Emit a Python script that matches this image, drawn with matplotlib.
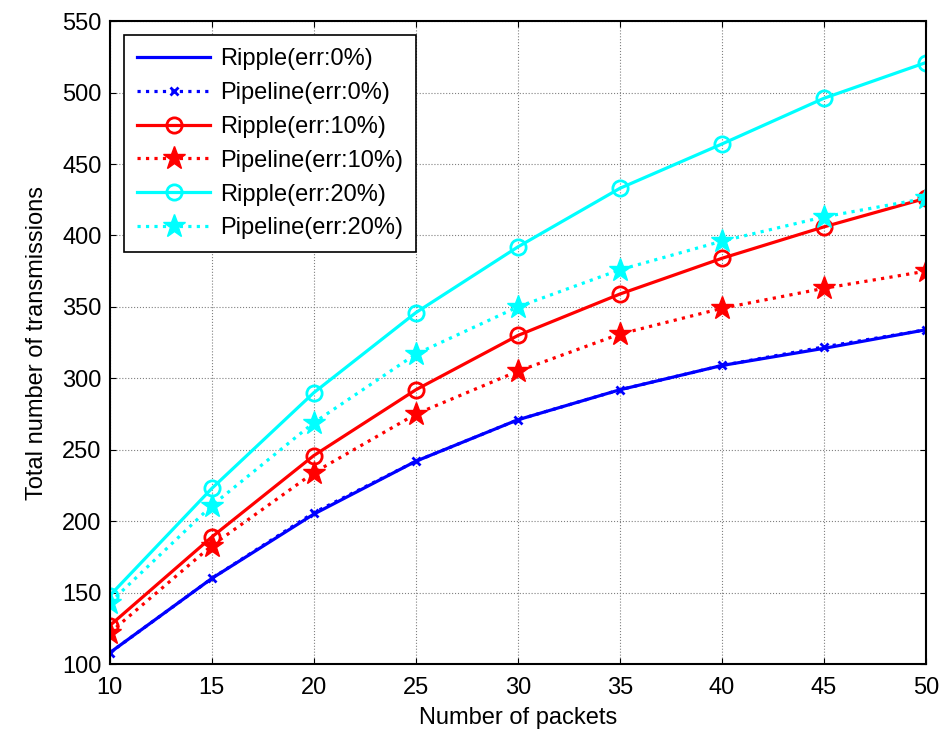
import matplotlib
matplotlib.use("Agg")
import matplotlib.pyplot as plt

plt.rcParams['font.family'] = ['Liberation Sans', 'DejaVu Sans']

packets = [10, 15, 20, 25, 30, 35, 40, 45, 50]

ripple_0 = [108, 160, 205, 242, 271, 292, 309, 321, 334]
pipeline_0 = [108, 160, 206, 242, 271, 292, 309, 322, 334]
ripple_10 = [127, 189, 246, 292, 330, 359, 384, 406, 426]
pipeline_10 = [122, 183, 234, 275, 305, 331, 349, 363, 375]
ripple_20 = [148, 223, 290, 346, 392, 433, 464, 496, 521]
pipeline_20 = [143, 211, 269, 317, 350, 376, 396, 413, 426]

fig = plt.figure(figsize=(9.39, 7.29), dpi=100)
ax = fig.add_axes([0.117, 0.089, 0.869, 0.882])

lw = 2.3
ax.plot(packets, ripple_0, '-', color='blue', lw=lw, label='Ripple(err:0%)')
ax.plot(packets, pipeline_0, ':', color='blue', lw=lw, marker='x', ms=6,
        mew=2, label='Pipeline(err:0%)')
ax.plot(packets, ripple_10, '-', color='red', lw=lw, marker='o', ms=11,
        mfc='none', mew=2, label='Ripple(err:10%)')
ax.plot(packets, pipeline_10, ':', color='red', lw=lw, marker='*', ms=17,
        label='Pipeline(err:10%)')
ax.plot(packets, ripple_20, '-', color='cyan', lw=lw, marker='o', ms=11,
        mfc='none', mew=2, label='Ripple(err:20%)')
ax.plot(packets, pipeline_20, ':', color='cyan', lw=lw, marker='*', ms=17,
        label='Pipeline(err:20%)')

ax.set_xlim(10, 50)
ax.set_ylim(100, 550)
ax.set_xticks(range(10, 51, 5))
ax.set_yticks(range(100, 551, 50))
ax.tick_params(direction='in', top=True, right=True, labelsize=17, length=4)
ax.tick_params(axis='x', pad=9)
ax.tick_params(axis='y', pad=6)
ax.grid(True, linestyle=':', color='gray', lw=0.8)
for s in ax.spines.values():
    s.set_linewidth(1.5)

ax.set_xlabel('Number of packets', fontsize=17, labelpad=6)
ax.set_ylabel('Total number of transmissions', fontsize=17, labelpad=10)

leg = ax.legend(loc='upper left', fontsize=17, fancybox=False, framealpha=1,
                edgecolor='black', handlelength=3.1, borderaxespad=0.6,
                labelspacing=0.5, handletextpad=0.4, borderpad=0.55,
                bbox_to_anchor=(0.0, 1.0))
leg.get_frame().set_linewidth(1.2)

fig.savefig('out.png', dpi=100)
